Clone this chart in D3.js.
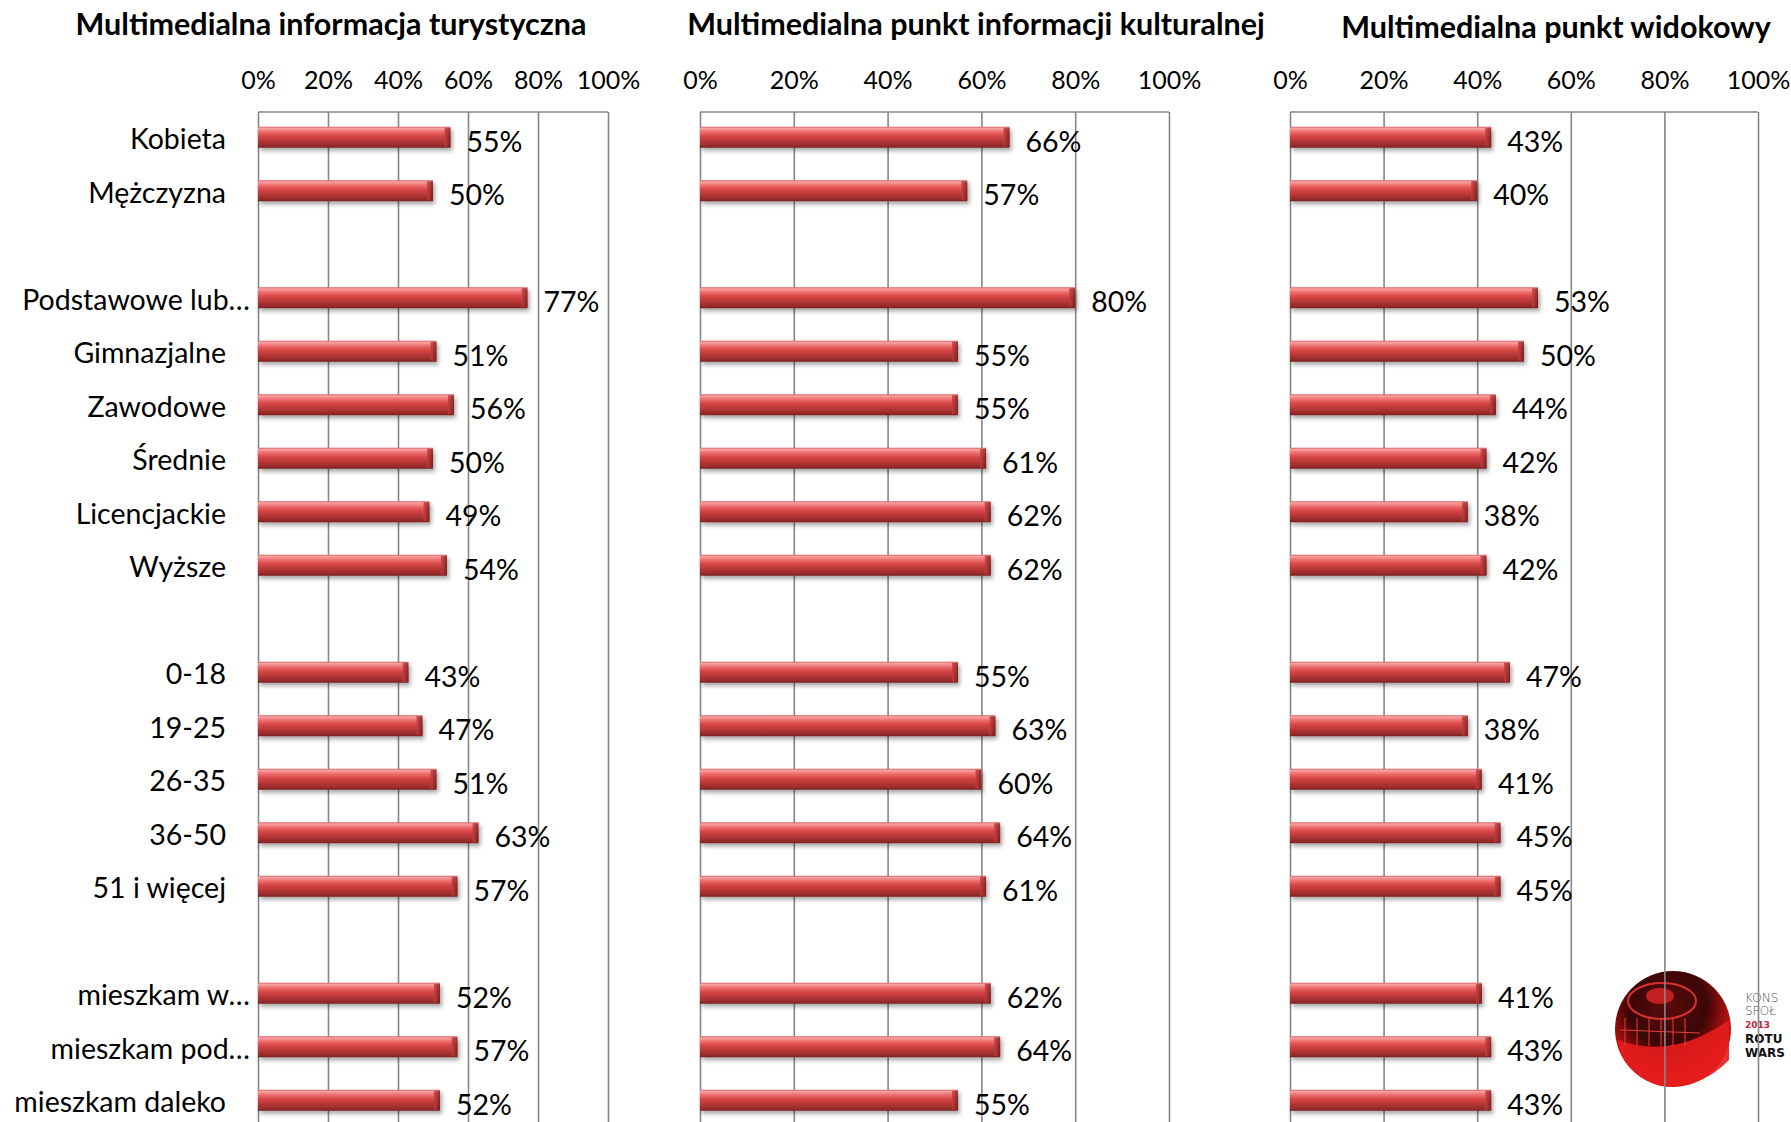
<!DOCTYPE html>
<html><head><meta charset="utf-8">
<script src="https://cdn.jsdelivr.net/npm/d3@7"></script>
<style>
body{margin:0;background:#fff}
svg{display:block}
text{font-family:Lato,"Open Sans",sans-serif;fill:#000}
</style>
</head><body>
<svg id="c" width="1791" height="1122"></svg>
<script>
const categories = ["Kobieta","Mężczyzna","","Podstawowe lub…","Gimnazjalne","Zawodowe","Średnie","Licencjackie","Wyższe","","0-18","19-25","26-35","36-50","51 i więcej","","mieszkam w…","mieszkam pod…","mieszkam daleko"];
const panelTitles = ["Multimedialna informacja turystyczna","Multimedialna punkt informacji kulturalnej","Multimedialna punkt widokowy"];
const tickValues = [0,0.2,0.4,0.6,0.8,1];
const turystyczna = [55,50,null,77,51,56,50,49,54,null,43,47,51,63,57,null,52,57,52];
const kulturalna  = [66,57,null,80,55,55,61,62,62,null,55,63,60,64,61,null,62,64,55];
const widokowy    = [43,40,null,53,50,44,42,38,42,null,47,38,41,45,45,null,41,43,43];
const logoLines = ["KONS","SPOŁ","2013","ROTU","WARS"];

const series = [turystyczna, kulturalna, widokowy];
const panels = [
  {x0:258, x1:608, tx:331, ty:35},
  {x0:700, x1:1169, tx:976, ty:35},
  {x0:1290, x1:1758, tx:1556, ty:38}
];
const svg = d3.select("#c");
const defs = svg.append("defs");

const g1 = defs.append("linearGradient").attr("id","barG").attr("x1",0).attr("y1",0).attr("x2",0).attr("y2",1);
[[0,"#d95b5b"],[0.08,"#f7a3a3"],[0.22,"#f07373"],[0.45,"#d64545"],[0.7,"#b33636"],[0.9,"#972a2a"],[1,"#7a2020"]]
  .forEach(([o,c])=>g1.append("stop").attr("offset",o).attr("stop-color",c));
const g2 = defs.append("linearGradient").attr("id","capG").attr("x1",0).attr("y1",0).attr("x2",1).attr("y2",0);
[[0,"#c24141"],[0.6,"#9a2b2b"],[1,"#6e1c1c"]].forEach(([o,c])=>g2.append("stop").attr("offset",o).attr("stop-color",c));
const f = defs.append("filter").attr("id","sh").attr("x","-5%").attr("y","-50%").attr("width","115%").attr("height","250%");
f.append("feDropShadow").attr("dx",2).attr("dy",3).attr("stdDeviation",2.2).attr("flood-color","#000").attr("flood-opacity",0.35);

const lg = defs.append("radialGradient").attr("id","logoG").attr("cx","45%").attr("cy","30%").attr("r","75%");
[[0,"#5a0c0c"],[0.45,"#3a0606"],[0.7,"#b01010"],[1,"#e81c1c"]].forEach(([o,c])=>lg.append("stop").attr("offset",o).attr("stop-color",c));

const y = d3.scaleBand().domain(d3.range(categories.length)).range([111, 111 + categories.length*53.5]);
const bw = y.bandwidth();

// logo (behind gridlines)
const logo = svg.append("g");
logo.append("circle").attr("cx",1673).attr("cy",1029).attr("r",58).attr("fill","url(#logoG)");
logo.append("ellipse").attr("cx",1662).attr("cy",1001).attr("rx",34).attr("ry",18).attr("fill","none").attr("stroke","#d83030").attr("stroke-width",2);
logo.append("ellipse").attr("cx",1660).attr("cy",996).attr("rx",14).attr("ry",8).attr("fill","#c22020");
logo.append("path").attr("d","M1617,1040 Q1673,1060 1729,1020 L1729,1060 Q1700,1090 1660,1086 Q1625,1075 1617,1040 Z").attr("fill","#e51d1d").attr("opacity",0.9);
for (let i=0;i<6;i++){
  logo.append("line").attr("x1",1625+i*12).attr("x2",1625+i*12).attr("y1",1018).attr("y2",1046).attr("stroke","#e04040").attr("stroke-width",1);
}
logo.append("line").attr("x1",1620).attr("x2",1700).attr("y1",1030).attr("y2",1033).attr("stroke","#e04040").attr("stroke-width",1);
const lt = [{t:logoLines[0],y:1002,w:300,s:12,c:"#555"},{t:logoLines[1],y:1015,w:300,s:12,c:"#555"},{t:logoLines[2],y:1028,w:700,s:9,c:"#c0283a"},{t:logoLines[3],y:1043,w:800,s:12,c:"#111"},{t:logoLines[4],y:1057,w:800,s:12,c:"#111"}];
logo.selectAll("text.lt").data(lt).join("text").attr("class","lt").attr("x",1745).attr("y",d=>d.y).attr("font-size",d=>d.s).attr("font-weight",d=>d.w).style("fill",d=>d.c).style("font-family","'DejaVu Sans',sans-serif").text(d=>d.t);

panels.forEach((p,pi)=>{
  const x = d3.scaleLinear().domain([0,1]).range([p.x0,p.x1]);
  const g = svg.append("g");
  // title
  g.append("text").attr("x",p.tx).attr("y",p.ty).attr("text-anchor","middle").attr("font-size",30.5).attr("font-weight",700).text(panelTitles[pi]);
  // tick labels
  const ax = g.append("g").attr("transform","translate(0,89)")
    .call(d3.axisTop(x).tickValues(tickValues).tickFormat(d3.format(".0%")).tickSize(0).tickPadding(0));
  ax.select(".domain").remove();
  ax.selectAll("text").attr("font-size",25).attr("font-family",null).style("fill","#000");
  // gridlines
  const gr = g.append("g").attr("transform","translate(0,112)")
    .call(d3.axisBottom(x).tickValues(tickValues).tickFormat("").tickSize(1040));
  gr.select(".domain").remove();
  gr.selectAll("line").attr("stroke","#878787").attr("stroke-width",1.6);
  g.append("line").attr("x1",x(0)).attr("x2",x(1)).attr("y1",112).attr("y2",112).attr("stroke","#878787").attr("stroke-width",1.6);
  // bars
  const data = series[pi].map((v,i)=>({v,i})).filter(d=>d.v!=null);
  const bars = g.append("g").selectAll("g").data(data).join("g");
  bars.append("rect").attr("x",x(0)).attr("y",d=>y(d.i)+bw/2-11).attr("width",d=>x(d.v/100)-x(0)).attr("height",21)
    .attr("fill","url(#barG)").attr("filter","url(#sh)");
  bars.append("rect").attr("x",d=>x(d.v/100)-6).attr("y",d=>y(d.i)+bw/2-10).attr("width",6).attr("height",19)
    .attr("fill","url(#capG)").attr("opacity",0.8);
  // value labels
  g.append("g").selectAll("text").data(data).join("text")
    .attr("x",d=>x(d.v/100)+16).attr("y",d=>y(d.i)+bw/2+14).attr("font-size",28.5).text(d=>d.v+"%");
  // category labels
  if (pi===0){
    g.append("g").selectAll("text").data(categories.map((c,i)=>({c,i})).filter(d=>d.c)).join("text")
      .attr("x",d=>d.c.endsWith("…")? x(0)-8 : x(0)-32)
      .attr("y",d=>y(d.i)+bw/2+11.5).attr("text-anchor","end").attr("font-size",28.5).text(d=>d.c);
  }
});
</script>
</body></html>
